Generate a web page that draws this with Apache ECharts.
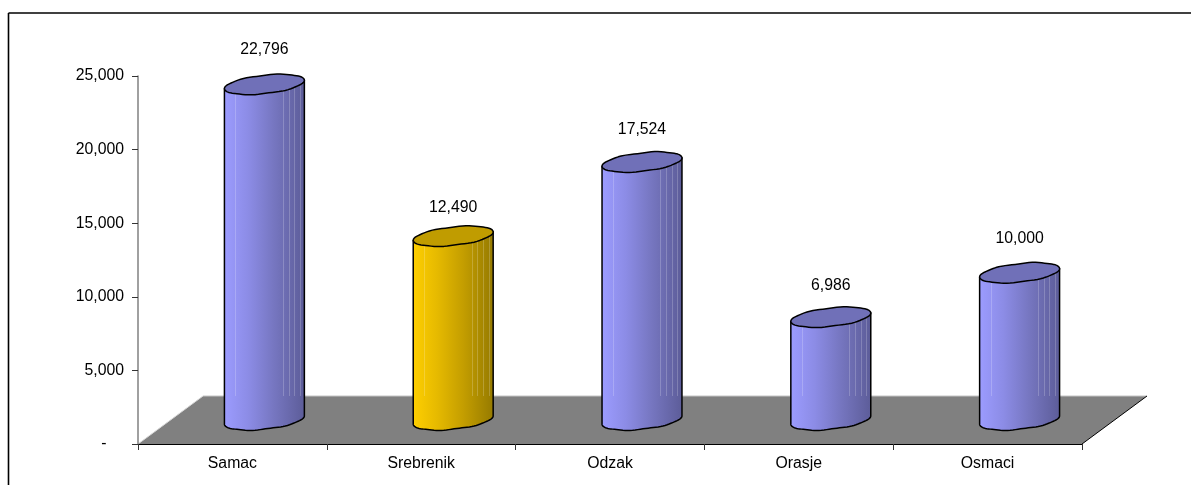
<!DOCTYPE html>
<html>
<head>
<meta charset="utf-8">
<style>html,body{margin:0;padding:0;background:#fff}#c{width:1191px;height:485px}</style>
<script src="https://cdn.jsdelivr.net/npm/echarts@6/dist/echarts.min.js"></script>
</head>
<body>
<div id="c"></div>
<script>
const categories = ['Samac', 'Srebrenik', 'Odzak', 'Orasje', 'Osmaci'];
const values = [22796, 12490, 17524, 6986, 10000];
const highlighted = 'Srebrenik';
const yMax = 25000;
const yStep = 5000;

const FONT = '"Liberation Sans", Arial, sans-serif';
const FS = 15.8;
const DX = 32, DY = -24;          // oblique depth offset of the cylinders
const FLOOR_DX = 65, FLOOR_DY = -48;
const TILT = -0.11;               // radians of rotation of the elliptical ends
const LABEL_LIFT = [35, 28, 32, 32, 34];
const blue = {cap: '#7070b8', stops: ['#9c9cff', '#8c8ce6', '#7676c0', '#5c5c98']};
const gold = {cap: '#c09c00', stops: ['#ffcf00', '#e6ba00', '#c49e00', '#957a00']};

function money(v) { return String(v).replace(/\B(?=(\d{3})+$)/g, ','); }

function arc(cx, cy, a, b, t0, t1, n) {
  const pts = [];
  const cs = Math.cos(TILT), sn = Math.sin(TILT);
  for (let i = 0; i <= n; i++) {
    const t = n ? t0 + (t1 - t0) * i / n : t0;
    const wob = 0.35 * Math.sin(7 * t + 0.6) * Math.abs(Math.sin(t));
    const x = a * Math.cos(t);
    const y = b * Math.sin(t) + wob;
    pts.push([cx + x * cs - y * sn, cy + x * sn + y * cs]);
  }
  return pts;
}

function floorItem(params, api) {
  const o = api.coord([0, 0]);
  const band = api.size([1, 0])[0];
  const x0 = o[0] - band / 2, x1 = x0 + band * categories.length, y0 = o[1];
  return {type: 'group', silent: true, children: [
    {type: 'polygon', shape: {points: [[x0, y0], [x1, y0], [x1 + FLOOR_DX, y0 + FLOOR_DY], [x0 + FLOOR_DX, y0 + FLOOR_DY]]},
     style: {fill: '#808080', stroke: null}},
    {type: 'line', shape: {x1: x0 + FLOOR_DX, y1: y0 + FLOOR_DY, x2: x1 + FLOOR_DX, y2: y0 + FLOOR_DY}, style: {stroke: '#c4c4c4', lineWidth: 1}},
    {type: 'line', shape: {x1: x0, y1: y0, x2: x0 + FLOOR_DX, y2: y0 + FLOOR_DY}, style: {stroke: '#d8d8d8', lineWidth: 1}},
    {type: 'line', shape: {x1: x1, y1: y0, x2: x1 + FLOOR_DX, y2: y0 + FLOOR_DY}, style: {stroke: '#000', lineWidth: 1}}
  ]};
}

function cylinderItem(params, api) {
  const i = api.value(0);
  const base = api.coord([i, 0]);
  const top = api.coord([i, api.value(1)]);
  const band = api.size([1, 0])[0];
  const a = band * 0.213, b = 9.2;
  const cx = base[0] + DX, by = base[1] + DY, ty = top[1] + DY;
  const c = categories[i] === highlighted ? gold : blue;
  const s = c.stops;
  const fill = new echarts.graphic.LinearGradient(0, 0, 1, 0, [
    {offset: 0, color: s[0]}, {offset: 0.3, color: s[1]},
    {offset: 0.62, color: s[2]}, {offset: 1, color: s[3]}
  ]);
  const body = arc(cx, ty, a, b, Math.PI, Math.PI, 0)
    .concat(arc(cx, by, a, b, Math.PI, 0, 48))
    .concat(arc(cx, ty, a, b, 0, 0, 0));
  const stripes = [0.14, 0.73, 0.8, 0.87, 0.94].map(f => {
    const x = Math.round(cx - a + 2 * a * f) + 0.5;
    return {type: 'line', shape: {x1: x, y1: ty, x2: x, y2: base[1] + FLOOR_DY},
            style: {stroke: 'rgba(255,255,255,0.2)', lineWidth: 1}};
  });
  return {type: 'group', children: [
    {type: 'polygon', shape: {points: body}, style: {fill: fill, stroke: '#000', lineWidth: 1.5, lineJoin: 'round'}}
  ].concat(stripes).concat([
    {type: 'polygon', shape: {points: arc(cx, ty, a, b, 0, Math.PI * 2, 72)},
     style: {fill: c.cap, stroke: '#000', lineWidth: 1.5, lineJoin: 'round'}},
    {type: 'text', x: cx, y: ty - LABEL_LIFT[i], style: {text: money(api.value(1)), fill: '#000', font: FS + 'px ' + FONT, align: 'center', verticalAlign: 'middle'}}
  ])};
}

const chart = echarts.init(document.getElementById('c'), null, {renderer: 'canvas'});
chart.setOption({
  animation: false,
  backgroundColor: '#fff',
  grid: {left: 138, right: 109, top: 76, bottom: 41, containLabel: false},
  graphic: [
    {type: 'line', shape: {x1: 8.5, y1: 13, x2: 1191, y2: 13}, style: {stroke: '#000', lineWidth: 1.6}, silent: true},
    {type: 'line', shape: {x1: 8.5, y1: 13, x2: 8.5, y2: 485}, style: {stroke: '#000', lineWidth: 1.6}, silent: true}
  ],
  xAxis: {
    type: 'category', data: categories, boundaryGap: true, z: 5,
    axisLine: {lineStyle: {color: '#000', width: 1}},
    axisTick: {show: true, alignWithLabel: false, length: 6, lineStyle: {color: '#333', width: 1}},
    axisLabel: {color: '#000', fontFamily: FONT, fontSize: FS, margin: 12, interval: 0},
    splitLine: {show: false}
  },
  yAxis: {
    type: 'value', min: 0, max: yMax, interval: yStep, z: 5,
    axisLine: {show: true, lineStyle: {color: '#808080', width: 1.5}},
    axisTick: {show: true, length: 6, lineStyle: {color: '#333', width: 1}},
    axisLabel: {color: '#000', fontFamily: FONT, fontSize: FS, margin: 14,
      formatter: v => v === 0 ? '-\u00a0\u00a0\u00a0\u00a0' : money(v)},
    splitLine: {show: false}
  },
  series: [
    {type: 'custom', z: 1, clip: false, silent: true, renderItem: floorItem, data: [[0, 0]]},
    {type: 'custom', z: 6, clip: false, silent: true, renderItem: cylinderItem,
     encode: {x: 0, y: 1}, data: values.map((v, i) => [i, v])}
  ]
});
</script>
</body>
</html>
